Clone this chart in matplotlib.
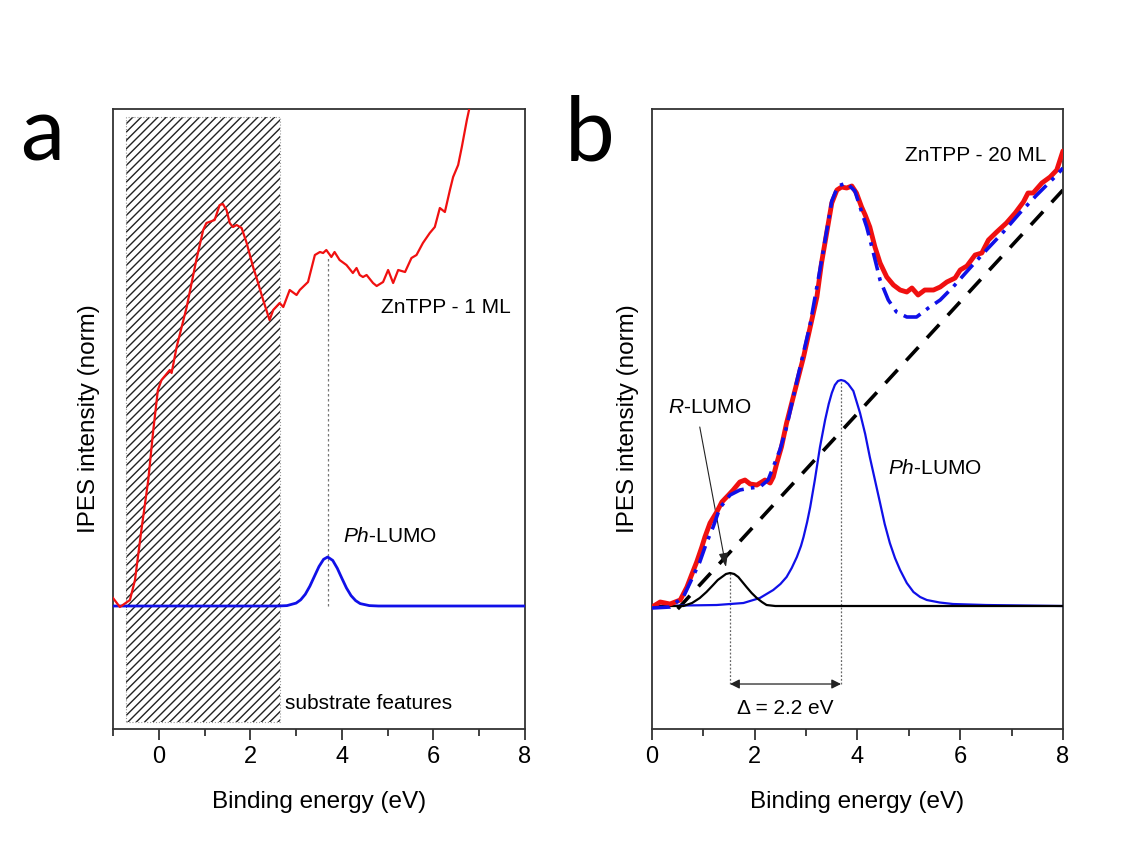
import matplotlib
matplotlib.use("Agg")
import matplotlib.pyplot as plt
from matplotlib.patches import Rectangle

plt.rcParams['font.family'] = ['Liberation Sans', 'DejaVu Sans']
plt.rcParams['mathtext.fontset'] = 'custom'
plt.rcParams['mathtext.rm'] = 'Liberation Sans'
plt.rcParams['mathtext.it'] = 'Liberation Sans:italic'
plt.rcParams['hatch.linewidth'] = 1.0

# ---------------- Panel a data (ZnTPP - 1 ML) ----------------
a_red_x = [-1.00, -0.85, -0.63, -0.52, -0.38, -0.23, -0.12, -0.02, 0.06, 0.24, 0.28, 0.39,
           0.61, 0.82, 0.97, 1.04, 1.22, 1.33, 1.40, 1.48, 1.55, 1.62, 1.70, 1.81, 1.92,
           2.06, 2.13, 2.28, 2.42, 2.50, 2.64, 2.72, 2.86, 3.01, 3.08, 3.26, 3.41, 3.52,
           3.59, 3.66, 3.77, 3.84, 3.95, 4.10, 4.24, 4.32, 4.39, 4.46, 4.54, 4.68, 4.76,
           4.90, 5.01, 5.12, 5.23, 5.38, 5.52, 5.63, 5.77, 5.92, 6.03, 6.14, 6.25, 6.36,
           6.43, 6.54, 6.62, 6.73, 6.82]
a_red_y = [0.08, -0.01, 0.06, 0.26, 0.76, 1.26, 1.76, 2.16, 2.26, 2.36, 2.33, 2.59,
           2.99, 3.46, 3.76, 3.83, 3.86, 4.01, 4.02, 3.96, 3.83, 3.79, 3.81, 3.78, 3.63,
           3.39, 3.29, 3.06, 2.86, 2.96, 3.03, 2.99, 3.16, 3.11, 3.16, 3.24, 3.51, 3.54,
           3.53, 3.56, 3.49, 3.54, 3.46, 3.41, 3.33, 3.38, 3.31, 3.29, 3.31, 3.23, 3.20,
           3.24, 3.36, 3.23, 3.36, 3.34, 3.48, 3.51, 3.63, 3.73, 3.79, 3.98, 3.94, 4.16,
           4.29, 4.41, 4.59, 4.86, 5.05]

a_blue_x = [-1.0, 2.6, 2.8, 3.0, 3.1, 3.2, 3.3, 3.4, 3.5, 3.6, 3.69, 3.8, 3.9, 4.0,
            4.1, 4.2, 4.3, 4.4, 4.6, 4.8, 8.0]
a_blue_y = [0.0, 0.0, 0.004, 0.029, 0.062, 0.117, 0.198, 0.297, 0.395, 0.467, 0.49,
            0.456, 0.377, 0.277, 0.180, 0.104, 0.054, 0.024, 0.004, 0.0, 0.0]

a_peak_x = 3.69
a_peak_top = 3.48
a_shade = (-0.71, 2.64)
a_shade_y = (-1.16, 4.89)

# ---------------- Panel b data (ZnTPP - 20 ML) ----------------
b_red_x = [0.00, 0.16, 0.35, 0.55, 0.68, 0.77, 0.87, 0.97, 1.03, 1.13, 1.26, 1.36, 1.49,
           1.58, 1.71, 1.81, 1.91, 2.04, 2.20, 2.30, 2.36, 2.43, 2.52, 2.62, 2.72, 2.82,
           2.95, 3.08, 3.21, 3.30, 3.40, 3.50, 3.60, 3.69, 3.79, 3.89, 3.98, 4.08, 4.15,
           4.24, 4.34, 4.44, 4.57, 4.70, 4.83, 4.96, 5.06, 5.18, 5.31, 5.48, 5.61, 5.74,
           5.90, 6.00, 6.13, 6.29, 6.42, 6.55, 6.71, 6.90, 7.07, 7.23, 7.32, 7.42, 7.59,
           7.75, 7.88, 8.00]
b_red_y = [-0.01, 0.04, 0.02, 0.06, 0.19, 0.31, 0.44, 0.59, 0.69, 0.83, 0.94, 1.04, 1.11,
           1.16, 1.24, 1.26, 1.22, 1.21, 1.26, 1.23, 1.29, 1.43, 1.59, 1.83, 2.03, 2.23,
           2.49, 2.79, 3.09, 3.43, 3.73, 4.03, 4.16, 4.19, 4.18, 4.20, 4.13, 3.99, 3.91,
           3.79, 3.59, 3.43, 3.29, 3.21, 3.16, 3.14, 3.18, 3.11, 3.16, 3.16, 3.19, 3.24,
           3.28, 3.36, 3.40, 3.51, 3.53, 3.66, 3.74, 3.83, 3.93, 4.04, 4.13, 4.13, 4.23,
           4.29, 4.36, 4.55]

b_fit_x = [0.00, 0.35, 0.61, 0.93, 1.06, 1.19, 1.32, 1.52, 1.71, 1.91, 2.10, 2.26, 2.36,
           2.49, 2.62, 2.82, 3.08, 3.30, 3.50, 3.62, 3.79, 3.95, 4.05, 4.18, 4.31, 4.44,
           4.60, 4.76, 4.96, 5.15, 5.38, 5.61, 5.86, 6.19, 6.51, 6.84, 7.16, 7.49, 7.88,
           8.00]
b_fit_y = [-0.02, -0.01, 0.09, 0.44, 0.63, 0.79, 0.98, 1.11, 1.16, 1.18, 1.19, 1.26, 1.39,
           1.56, 1.79, 2.25, 2.82, 3.45, 4.05, 4.20, 4.23, 4.15, 3.99, 3.79, 3.53, 3.26,
           3.06, 2.94, 2.89, 2.89, 2.98, 3.06, 3.19, 3.38, 3.56, 3.74, 3.93, 4.11, 4.31,
           4.38]

b_bg_x = [0.50, 8.00]
b_bg_y = [-0.03, 4.16]

b_ph_x = [0.00, 1.26, 1.78, 2.10, 2.36, 2.50, 2.62, 2.72, 2.82, 2.90, 2.95, 3.02, 3.08,
          3.17, 3.27, 3.37, 3.44, 3.50, 3.56, 3.62, 3.68, 3.75, 3.82, 3.92, 4.05, 4.15,
          4.24, 4.34, 4.44, 4.53, 4.63, 4.73, 4.83, 4.96, 5.09, 5.22, 5.35, 5.60, 5.86,
          6.50, 8.00]
b_ph_y = [0.00, 0.01, 0.03, 0.08, 0.16, 0.22, 0.29, 0.38, 0.49, 0.60, 0.69, 0.84, 0.99,
          1.26, 1.59, 1.86, 2.02, 2.13, 2.21, 2.25, 2.26, 2.25, 2.22, 2.15, 1.93, 1.72,
          1.49, 1.26, 1.03, 0.82, 0.63, 0.48, 0.36, 0.23, 0.14, 0.09, 0.06, 0.035, 0.02,
          0.01, 0.00]

b_r_x = [0.00, 0.61, 0.78, 0.93, 1.06, 1.19, 1.28, 1.36, 1.44, 1.52, 1.60, 1.68, 1.76,
         1.84, 1.94, 2.04, 2.14, 2.23, 2.40, 8.00]
b_r_y = [0.00, 0.00, 0.03, 0.08, 0.14, 0.21, 0.26, 0.29, 0.32, 0.33, 0.32, 0.29, 0.24,
         0.19, 0.13, 0.08, 0.04, 0.01, 0.00, 0.00]

b_r_peak = (1.52, 0.33)
b_ph_peak = (3.68, 2.26)
b_delta_y = -0.78

xticks_a = [0, 2, 4, 6, 8]
xticks_b = [0, 2, 4, 6, 8]

RED = '#f01010'
BLUE = '#1010e8'

fig = plt.figure(figsize=(11.29, 8.61), dpi=100)
axa = fig.add_axes([0.1001, 0.1533, 0.3649, 0.7201])
axb = fig.add_axes([0.5775, 0.1533, 0.3640, 0.7201])

for ax in (axa, axb):
    ax.set_ylim(-1.23, 4.97)
    ax.set_yticks([])
    for s in ax.spines.values():
        s.set_linewidth(1.3)
        s.set_color('#333333')
    ax.tick_params(axis='x', which='major', direction='out', length=8, width=1.3,
                   labelsize=17, pad=4, color='#333333')
    ax.tick_params(axis='x', which='minor', direction='out', length=5, width=1.3,
                   color='#333333')
    ax.set_xlabel('Binding energy (eV)', fontsize=17.5, labelpad=17)
    ax.set_ylabel('IPES intensity (norm)', fontsize=17.5)
    ax.yaxis.set_label_coords(-0.032, 0.5)

# ---------- panel a ----------
axa.set_xlim(-1, 8)
axa.set_xticks(xticks_a)
axa.set_xticks([-1, 1, 3, 5, 7], minor=True)
axa.add_patch(Rectangle((a_shade[0], a_shade_y[0]), a_shade[1] - a_shade[0],
                        a_shade_y[1] - a_shade_y[0], facecolor='none',
                        edgecolor='#222222', linewidth=0, hatch='////', zorder=1))
axa.add_patch(Rectangle((a_shade[0], a_shade_y[0]), a_shade[1] - a_shade[0],
                        a_shade_y[1] - a_shade_y[0], fill=False,
                        edgecolor='#999999', linewidth=0.8, linestyle=':', zorder=1))
axa.plot([a_peak_x, a_peak_x], [0, a_peak_top], color='#777777', lw=0.9, ls=(0, (2, 2)),
         zorder=2)
axa.plot(a_blue_x, a_blue_y, color=BLUE, lw=2.0, zorder=3)
axa.plot(a_red_x, a_red_y, color=RED, lw=1.6, zorder=4)
axa.text(4.86, 2.99, 'ZnTPP - 1 ML', fontsize=15, ha='left', va='center')
axa.text(4.03, 0.70, r'$\mathit{Ph}$-LUMO', fontsize=15, ha='left', va='center')
axa.text(2.75, -0.97, 'substrate features', fontsize=15, ha='left', va='center')

# ---------- panel b ----------
axb.set_xlim(0, 8)
axb.set_xticks(xticks_b)
axb.set_xticks([1, 3, 5, 7], minor=True)
axb.plot(b_bg_x, b_bg_y, color='black', lw=2.6, ls=(0, (5, 3.5)), zorder=2)
axb.plot(b_ph_x, b_ph_y, color=BLUE, lw=1.6, zorder=3)
axb.plot(b_r_x, b_r_y, color='black', lw=1.6, zorder=3)
axb.plot(b_red_x, b_red_y, color=RED, lw=3.5, zorder=4, solid_capstyle='round')
axb.plot(b_fit_x, b_fit_y, color=BLUE, lw=2.6, ls=(0, (5, 2, 1, 2)), zorder=5)
for (px, py) in (b_r_peak, b_ph_peak):
    axb.plot([px, px], [b_delta_y, py], color='#666666', lw=0.9, ls=(0, (1.5, 1.5)),
             zorder=1)
axb.annotate('', xy=(b_ph_peak[0], b_delta_y), xytext=(b_r_peak[0], b_delta_y),
             arrowprops=dict(arrowstyle='<|-|>', color='#222222', lw=0.9,
                             mutation_scale=14, shrinkA=0, shrinkB=0))
axb.annotate('', xy=(1.44, 0.39), xytext=(0.93, 1.79),
             arrowprops=dict(arrowstyle='-|>,head_length=0.6,head_width=0.2',
                             color='#222222', lw=0.8,
                             mutation_scale=14, shrinkA=0, shrinkB=0))
axb.text(2.59, -1.02, '\u0394 = 2.2 eV', fontsize=15, ha='center', va='center')
axb.text(0.31, 1.99, r'$\mathit{R}$-LUMO', fontsize=15, ha='left', va='center')
axb.text(4.59, 1.38, r'$\mathit{Ph}$-LUMO', fontsize=15, ha='left', va='center')
axb.text(7.68, 4.51, 'ZnTPP - 20 ML', fontsize=15, ha='right', va='center')

# panel letters
fig.text(0.018, 0.814, 'a', fontsize=64, family='Lato', ha='left', va='baseline')
fig.text(0.500, 0.814, 'b', fontsize=64, family='Lato', ha='left', va='baseline')

fig.savefig('out.png', dpi=100)
